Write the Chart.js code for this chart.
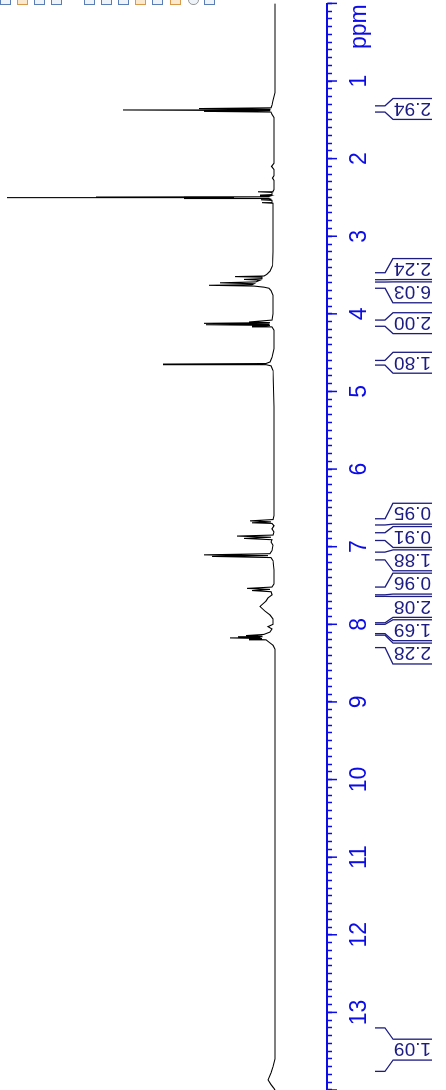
<!DOCTYPE html>
<html>
<head>
<meta charset="utf-8">
<script src="https://cdn.jsdelivr.net/npm/chart.js@4.4.0/dist/chart.umd.min.js"></script>
<style>
html, body { margin: 0; padding: 0; background: #fff; overflow: hidden; width: 446px; height: 1090px; }
#gir { position: absolute; left: 0; top: 0; width: 1090px; height: 446px; transform-origin: 0 0; transform: translateY(1090px) rotate(-90deg); }
#eines { position: absolute; left: 0; top: 0; width: 446px; height: 6px; overflow: hidden; }
#eines span { position: absolute; top: -6px; width: 9px; height: 9px; border: 1px solid #5a7db5; background: #eef3fa; }
#eines span.o { border-color: #d89a4a; background: #fbe9cf; }
</style>
</head>
<body>
<div id="eines">
  <span style="left:0px"></span><span class="o" style="left:17px"></span><span style="left:34px"></span><span style="left:51px"></span>
  <span style="left:84px"></span><span style="left:101px"></span><span style="left:118px"></span><span class="o" style="left:135px"></span>
  <span style="left:152px"></span><span class="o" style="left:170px"></span><span style="left:188px;border-radius:5px;border-color:#999"></span><span style="left:204px"></span>
</div>
<div id="gir"><canvas id="chart" width="1090" height="446"></canvas></div>
<script>
// spectrum trace (ppm, intensity)
const ppmPts = [0.00, 0.60, 1.15, 1.25, 1.31, 1.345, 1.355, 1.364, 1.373, 1.382, 1.391, 1.40, 1.43, 1.47, 1.80,
  2.06, 2.10, 2.14, 2.22, 2.25, 2.28, 2.40, 2.42, 2.427, 2.435, 2.463, 2.47, 2.478, 2.486, 2.491, 2.493, 2.495, 2.497,
  2.500, 2.503, 2.505, 2.507, 2.509, 2.514, 2.523, 2.53, 2.538, 2.56, 2.567, 2.575, 2.62, 2.90, 3.20, 3.38, 3.45, 3.49,
  3.512, 3.52, 3.528, 3.546, 3.556, 3.566, 3.588, 3.60, 3.612, 3.624, 3.632, 3.642, 3.656, 3.67, 3.70, 3.76, 4.00,
  4.08, 4.105, 4.113, 4.122, 4.131, 4.14, 4.149, 4.158, 4.168, 4.21, 4.45, 4.56, 4.62, 4.64, 4.647, 4.655, 4.67, 4.73,
  5.20, 6.10, 6.60, 6.65, 6.667, 6.68, 6.692, 6.70, 6.73, 6.77, 6.81, 6.85, 6.863, 6.878, 6.893, 6.91, 6.94, 6.98,
  7.05, 7.09, 7.105, 7.115, 7.125, 7.14, 7.18, 7.30, 7.48, 7.52, 7.537, 7.55, 7.565, 7.58, 7.62, 7.66, 7.70, 7.77,
  7.83, 7.88, 7.93, 8.00, 8.03, 8.06, 8.10, 8.13, 8.145, 8.152, 8.16, 8.168, 8.175, 8.183, 8.19, 8.20, 8.23, 8.27,
  8.32, 9.50, 11.0, 12.5, 13.60, 13.70, 13.78, 13.87, 13.93, 13.98, 14.00];
const intPts = [-1, -1, -1, 1, 2, 3, 75, 4, 151, 4, 70, 3, 2, 0, 0,
  0, 2.5, 0, 0, 1.5, 0, 0, 1, 16, 2, 2, 14, 3, 5, 90, 40, 178, 60,
  267, 60, 178, 40, 90, 5, 3, 13, 2, 2, 12, 1, 1, 1, 1, 1.5, 4, 7,
  10, 39, 12, 12, 30, 14, 18, 54, 20, 22, 65, 20, 10, 5, 3, 1, 1,
  2, 25, 4, 70, 5, 68, 4, 22, 2, 0, 0, 2, 4, 8, 111, 8, 3, 1,
  0, 0, 0, 1, 24, 3, 22, 2, 0, 2, 0, 1, 37, 3, 30, 2, 3, 1,
  2, 4, 70, 6, 62, 3, 1, 0, 0, 2, 27, 4, 22, 3, 2, 6, 8, 14,
  9, 4, 1, 1, 6, 2, 4, 10, 28, 12, 36, 14, 44, 12, 25, 8, 5, 1,
  -1, -1, -1, -1, -1, 1, 3, 6, 3, 0, -1];

// integral regions (ppm) and values
const integFrom = [1.32, 3.47, 3.59, 4.08, 4.60, 6.64, 6.82, 7.07, 7.52, 7.64, 8.00, 8.14, 13.20];
const integTo = [1.40, 3.56, 3.67, 4.16, 4.66, 6.72, 6.92, 7.17, 7.62, 7.98, 8.12, 8.30, 13.76];
const integVal = ['2.94', '2.24', '6.03', '2.00', '1.80', '0.95', '0.91', '1.88', '0.96', '2.08', '1.69', '2.28', '1.09'];

const ppmMin = 0;
const ppmMax = 14;

const BLAU = '#0c0ce6';
const MARI = '#1c1c82';
const SLOT = 23.3;

const marquesPlugin = {
  id: 'marques',
  afterDraw(chart) {
    const ctx = chart.ctx;
    const x = chart.scales.x;
    const base = chart.chartArea.bottom;

    // long ticks on whole ppm values
    ctx.save();
    ctx.strokeStyle = BLAU;
    ctx.lineWidth = 1.5;
    for (let v = ppmMin; v <= ppmMax; v++) {
      const px = x.getPixelForValue(v);
      ctx.beginPath();
      ctx.moveTo(px, base);
      ctx.lineTo(px, base + 10);
      ctx.stroke();
    }
    ctx.restore();

    // integral labels, pushed apart where they would overlap
    let items = integFrom.map((a, i) => {
      const p1 = x.getPixelForValue(a);
      const p2 = x.getPixelForValue(integTo[i]);
      return { i, lo: Math.min(p1, p2), hi: Math.max(p1, p2), c: (p1 + p2) / 2 };
    }).sort((a, b) => a.c - b.c);

    let grups = items.map(it => [it]);
    const centre = g => g.reduce((s, it) => s + it.c, 0) / g.length;
    let canvi = true;
    while (canvi) {
      canvi = false;
      for (let k = 0; k < grups.length - 1; k++) {
        const g1 = grups[k], g2 = grups[k + 1];
        if (centre(g1) + g1.length * SLOT / 2 > centre(g2) - g2.length * SLOT / 2) {
          grups.splice(k, 2, g1.concat(g2));
          canvi = true;
          break;
        }
      }
    }

    ctx.save();
    ctx.strokeStyle = MARI;
    ctx.fillStyle = MARI;
    ctx.lineWidth = 1.3;
    ctx.font = '19px "Liberation Sans", Arial, sans-serif';
    grups.forEach(g => {
      const inici = centre(g) - g.length * SLOT / 2;
      g.forEach((it, j) => {
        const cx = inici + (j + 0.5) * SLOT;
        const h = SLOT / 2 - 1.2;
        ctx.beginPath();
        ctx.moveTo(it.lo, base + 48);
        ctx.lineTo(it.lo, base + 58);
        ctx.lineTo(cx - h, base + 66);
        ctx.lineTo(cx - h, base + 105);
        ctx.moveTo(it.hi, base + 48);
        ctx.lineTo(it.hi, base + 58);
        ctx.lineTo(cx + h, base + 66);
        ctx.lineTo(cx + h, base + 105);
        ctx.stroke();

        ctx.save();
        ctx.translate(cx + 1, base + 104);
        ctx.rotate(-Math.PI / 2);
        ctx.textAlign = 'left';
        ctx.textBaseline = 'middle';
        ctx.fillText(integVal[it.i], 0, 0);
        ctx.restore();
      });
    });
    ctx.restore();
  }
};

function crearGrafic() {
  const punts = ppmPts.map((p, i) => ({ x: p, y: intPts[i] }));

  new Chart(document.getElementById('chart'), {
    type: 'scatter',
    data: {
      datasets: [{
        data: punts,
        showLine: true,
        borderColor: '#000',
        borderWidth: 1.1,
        pointRadius: 0,
        tension: 0
      }]
    },
    options: {
      responsive: false,
      animation: false,
      devicePixelRatio: 1,
      layout: { padding: { left: 0, right: 3.4, top: 0, bottom: 0 } },
      plugins: { legend: { display: false }, tooltip: { enabled: false } },
      scales: {
        x: {
          type: 'linear',
          reverse: true,
          min: ppmMin,
          max: ppmMax,
          afterFit: (scale) => {
            scale.height = 119;
            scale.paddingLeft = 0;
            scale.paddingRight = 0;
          },
          border: { color: BLAU, width: 2 },
          grid: { drawOnChartArea: false, drawTicks: true, tickLength: 5, color: BLAU, tickWidth: 1.5 },
          ticks: {
            stepSize: 0.1,
            autoSkip: false,
            maxRotation: 0,
            minRotation: 0,
            padding: 14,
            color: BLAU,
            font: { family: '"Liberation Sans", Arial, sans-serif', size: 23 },
            callback: (v) => {
              if (Math.abs(v - Math.round(v)) < 1e-6 && v > 0.5 && v < 13.5) return String(Math.round(v));
              if (Math.abs(v - 0.3) < 1e-6) return 'ppm';
              return '';
            }
          }
        },
        y: {
          display: false,
          min: -53,
          max: 274
        }
      }
    },
    plugins: [marquesPlugin]
  });
}

crearGrafic();
</script>
</body>
</html>
